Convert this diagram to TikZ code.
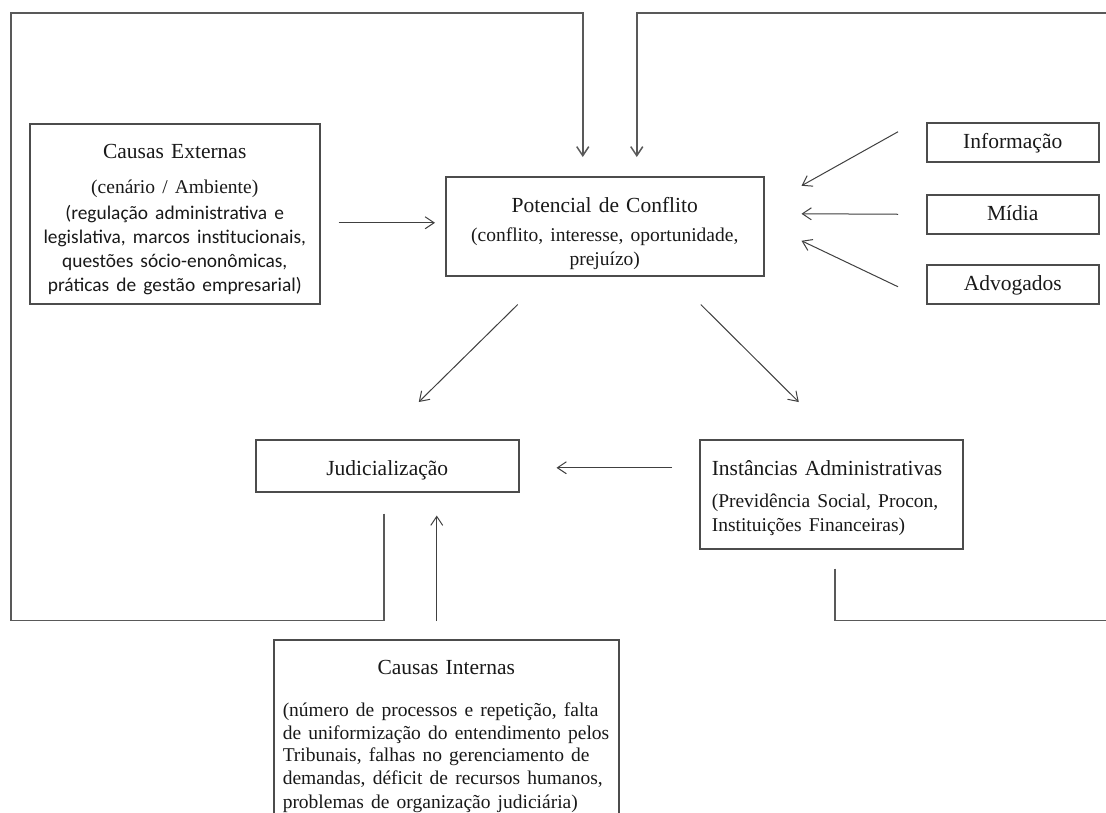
\documentclass[tikz,border=0pt]{standalone}
\usepackage{fontspec}
\setmainfont{Liberation Serif}
\newfontfamily\calibrifont{Carlito}
\usetikzlibrary{arrows.meta}

\newcommand{\titlesize}{\fontsize{21.5}{24}\selectfont}
\newcommand{\textsize}{\fontsize{19.5}{22.5}\selectfont}

\begin{document}
\begin{tikzpicture} [
    x=1pt, y=-1pt,
    box/.style = {draw=black!70, line width=1.5pt, anchor=north west, inner xsep=0pt,
      inner ysep=0pt, text=black!90, align=center, font=\titlesize},
    side box/.style = {box, text width=172pt, text height=26pt, text depth=13pt},
    link/.style = {draw=black!75, line width=1pt, -{Straight Barb[length=9pt,width=12pt]}},
    feedback/.style = {link, line width=1.5pt, draw=black!65}
    ]
    \path[use as bounding box, fill=white] (0,0) rectangle (1106,812);

    % boxes
    \node[box, text width=290pt, text height=35pt, text depth=145pt] (externas) at (29,123)
      {Causas Externas\par
       \fontsize{19.5}{35}\selectfont (cenário / Ambiente)\par\vspace{2pt}
       \calibrifont\fontsize{19.4}{24}\selectfont (regulação administrativa e\\
       legislativa, marcos institucionais,\\ questões sócio-enonômicas,\\
       práticas de gestão empresarial)};
    \node[box, text width=318pt, text height=36pt, text depth=63pt] (potencial) at (445,176)
      {Potencial de Conflito\par\vspace{6.5pt}
       \textsize (conflito, interesse, oportunidade,\\ prejuízo)};
    \node[side box] (informacao) at (926,122) {Informação};
    \node[side box] (midia) at (926,194) {Mídia};
    \node[side box] (advogados) at (926,264) {Advogados};
    \node[box, text width=263pt, text height=36pt, text depth=16pt] (judicial) at (255,439)
      {Judicialização};
    \node[box, align=left, inner xsep=12pt, text width=239pt, text height=36pt,
      text depth=73pt] (instancias) at (699,439)
      {Instâncias Administrativas\par\vspace{7pt}
       \fontsize{19.5}{25}\selectfont (Previdência Social, Procon,\\ Instituições Financeiras)};
    \node[box, align=left, inner xsep=9pt, text width=327pt, text height=35pt,
      text depth=150pt] (internas) at (273,639)
      {\centering Causas Internas\par\vspace{19.5pt}
       \raggedright\textsize (número de processos e repetição, falta\\
       de uniformização do entendimento pelos\\ Tribunais, falhas no gerenciamento de\\
       demandas, déficit de recursos humanos,\\ problemas de organização judiciária)};

    % corners of the feedback loops
    \coordinate (sw corner) at (11,620.5);
    \coordinate (nw corner) at (11,13);
    \coordinate (se corner) at (1130,620.5);
    \coordinate (ne corner) at (1130,13);

    % arrows
    \draw[link] ([xshift=18pt,yshift=-9pt]externas.east) -- ([xshift=-10pt,yshift=3.5pt]potencial.west);
    \draw[link] ([xshift=-28pt,yshift=10.5pt]informacao.west) -- ([xshift=37pt,yshift=40.5pt]potencial.east);
    \draw[link] ([xshift=-28pt]midia.west) -- ([xshift=37pt,yshift=12.5pt]potencial.east);
    \draw[link] ([xshift=-28pt,yshift=-2.5pt]advogados.west) -- ([xshift=37pt,yshift=-14.5pt]potencial.east);
    \draw[link] ([xshift=-87pt,yshift=-28pt]potencial.south) -- ([xshift=31.5pt,yshift=37pt]judicial.north);
    \draw[link] ([xshift=96pt,yshift=-28pt]potencial.south) -- ([xshift=-32.5pt,yshift=37pt]instancias.north);
    \draw[link] ([xshift=-27pt,yshift=26.5pt]instancias.west) -- ([xshift=37pt,yshift=-2pt]judicial.east);
    \draw[link] ([xshift=-9.5pt,yshift=18pt]internas.north) -- ([xshift=49.5pt,yshift=-23pt]judicial.south);

    % feedback loops
    \draw[feedback] ([xshift=-3.5pt,yshift=-21pt]judicial.south) |- (sw corner) -- (nw corner)
      -| ([xshift=-22pt,yshift=19pt]potencial.north);
    \draw[feedback] ([xshift=3.5pt,yshift=-19pt]instancias.south) |- (se corner) -- (ne corner)
      -| ([xshift=32pt,yshift=19pt]potencial.north);
\end{tikzpicture}
\end{document}
